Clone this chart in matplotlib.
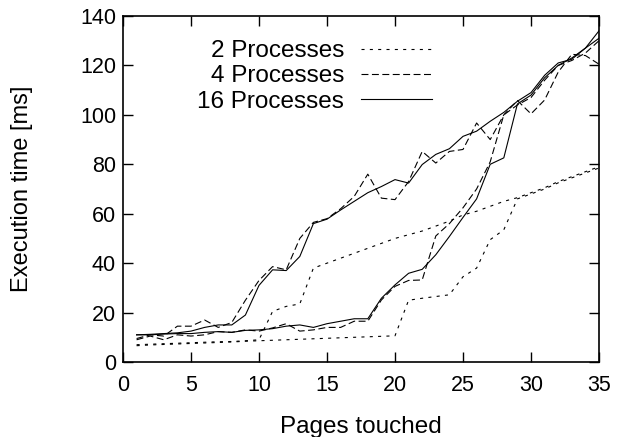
import numpy as np
import matplotlib
matplotlib.use('Agg')
import matplotlib.pyplot as plt

plt.rcParams['font.family'] = ['Liberation Sans', 'DejaVu Sans']
plt.rcParams['lines.scale_dashes'] = False

pages = np.arange(1, 36)

# 2 processes (two runs)
p2_hi = [7.0, 7.2, 7.4, 7.6, 7.8, 8.0, 8.2, 8.3, 8.6, 9.0, 20.5, 22.5, 23.5, 38.0, 40.0,
         42.0, 44.0, 46.0, 48.0, 50.0, 51.5, 53.0, 55.0, 57.0, 59.5, 61.0, 63.0, 65.0, 66.5, 68.5,
         70.5, 73.0, 75.0, 77.0, 79.0]
p2_lo = [6.6, 6.9, 7.1, 7.3, 7.5, 7.7, 7.9, 8.1, 8.4, 8.6, 8.8, 9.0, 9.2, 9.4, 9.6,
         9.8, 10.0, 10.2, 10.4, 10.6, 25.0, 25.8, 26.5, 27.2, 34.5, 38.0, 49.5, 53.5, 66.0, 68.0,
         70.0, 72.5, 74.5, 76.5, 78.5]

# 4 processes (two runs)
p4_hi = [9.5, 11.0, 10.5, 14.5, 14.5, 17.0, 14.0, 16.0, 25.0, 33.0, 38.6, 37.3, 50.0, 56.5, 58.0,
         62.0, 67.0, 76.0, 66.3, 65.7, 73.0, 85.2, 80.5, 85.2, 86.0, 96.7, 90.0, 100.0, 105.8, 100.4,
         106.0, 117.3, 124.5, 124.0, 120.5]
p4_lo = [9.0, 10.5, 9.0, 11.0, 10.5, 11.0, 12.3, 12.0, 13.0, 12.5, 13.8, 15.5, 12.5, 13.0, 14.0,
         14.0, 16.5, 16.5, 25.1, 30.6, 33.0, 33.2, 51.0, 56.0, 62.4, 70.0, 81.0, 100.0, 104.0, 107.0,
         114.0, 120.0, 122.0, 125.0, 130.0]

# 16 processes (two runs)
p16_hi = [11.0, 11.2, 11.5, 11.8, 12.5, 14.0, 15.0, 15.0, 19.0, 31.0, 37.3, 37.0, 42.7, 56.0, 57.8,
          61.5, 65.0, 68.5, 71.0, 73.8, 72.4, 79.9, 84.0, 86.3, 91.3, 93.4, 97.4, 101.0, 105.5, 109.0,
          116.0, 121.0, 122.5, 127.0, 134.0]
p16_lo = [11.0, 11.0, 11.3, 11.5, 11.5, 12.0, 12.3, 12.0, 12.8, 13.0, 13.5, 14.5, 15.0, 14.0, 15.5,
          16.5, 17.5, 17.5, 25.8, 31.2, 35.9, 37.5, 43.4, 50.8, 58.5, 66.0, 80.0, 82.6, 104.4, 108.0,
          115.0, 120.0, 123.0, 127.0, 131.0]

fig = plt.figure(figsize=(6.19, 4.37), dpi=100)
ax = fig.add_axes([0.1987, 0.1716, 0.7690, 0.7918])

dot = (0, (2.2, 3.8))
dash = (0, (5.0, 2.5))
lw = 0.8

ax.plot(pages, p2_hi, color='black', lw=lw, linestyle=dot, label='2 Processes')
ax.plot(pages, p2_lo, color='black', lw=lw, linestyle=dot)
ax.plot(pages, p4_hi, color='black', lw=lw, linestyle=dash, label='4 Processes')
ax.plot(pages, p4_lo, color='black', lw=lw, linestyle=dash)
ax.plot(pages, p16_hi, color='black', lw=lw, linestyle='-', label='16 Processes')
ax.plot(pages, p16_lo, color='black', lw=lw, linestyle='-')

ax.set_xlim(0, 35)
ax.set_ylim(0, 140)
ax.set_xticks(range(0, 36, 5))
ax.set_yticks(range(0, 141, 20))
ax.tick_params(direction='in', length=7, width=1.0, labelsize=15.5, top=True, right=True)
ax.tick_params(axis='x', pad=9)
ax.tick_params(axis='y', pad=5)
for s in ax.spines.values():
    s.set_linewidth(1.2)

ax.set_xlabel('Pages touched', fontsize=17.5)
ax.set_ylabel('Execution time [ms]', fontsize=17)
ax.xaxis.set_label_coords(0.5, -0.155)
ax.yaxis.set_label_coords(-0.189, 0.5)

leg = ax.legend(loc='upper right', bbox_to_anchor=(0.649, 0.930), frameon=False,
                markerfirst=False, alignment='right', fontsize=17.5,
                handlelength=2.9, handletextpad=0.72, labelspacing=0.13,
                borderpad=0, borderaxespad=0)

plt.savefig('out.png', dpi=100)
